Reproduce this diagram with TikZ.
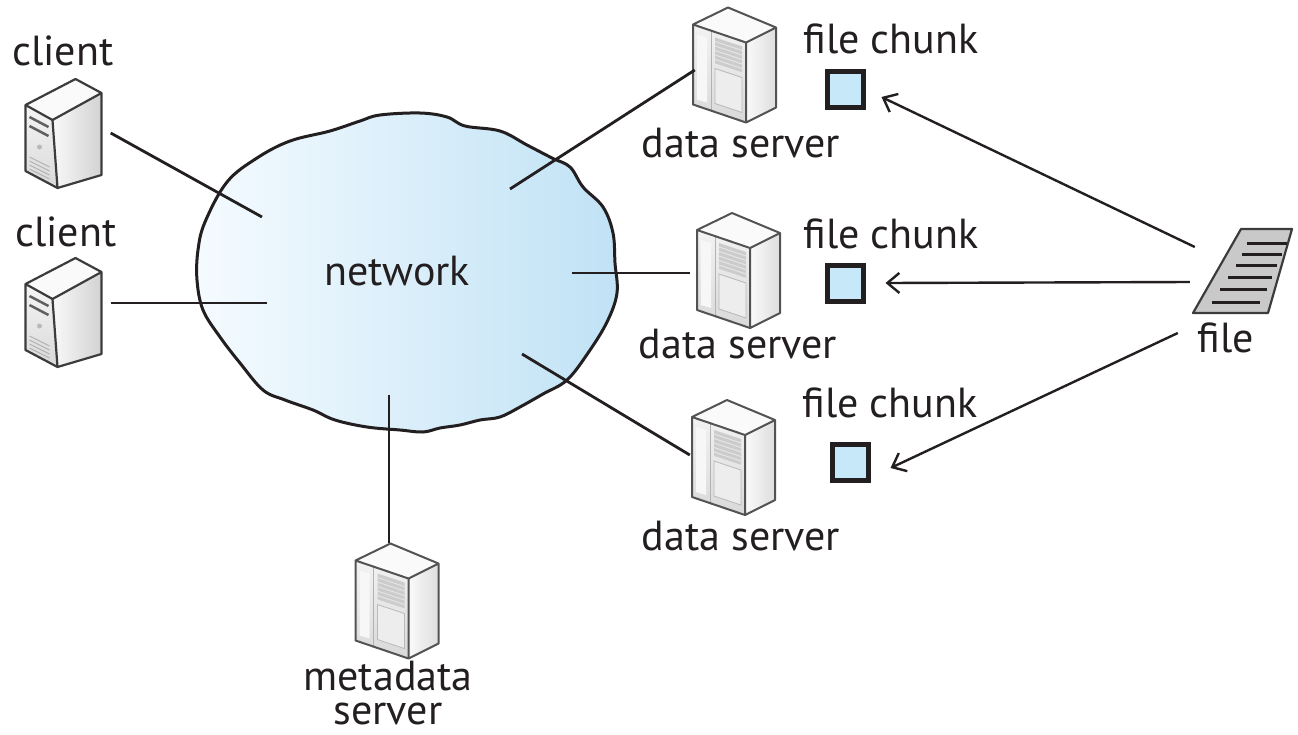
\documentclass[tikz,border=0pt]{standalone}
\usepackage{fontspec}
\setmainfont{PT Sans}
\usetikzlibrary{arrows.meta}
\definecolor{txt}{HTML}{231F20}
\definecolor{cloudL}{HTML}{F5FBFF}
\definecolor{cloudR}{HTML}{C0E2F5}
\definecolor{chunkfill}{HTML}{C6E8F8}
\definecolor{edgec}{HTML}{3C3C3C}
\definecolor{filefill}{HTML}{C9C9C9}
\tikzset{
  conn/.style={draw=txt, line width=2.8pt},
  arr/.style={draw=txt, line width=2.4pt, -{Straight Barb[length=12pt,width=20pt]}},
  lbl/.style={anchor=base, inner sep=0pt, text=txt},
  clientbox/.style={minimum width=94pt, minimum height=110pt, inner sep=0pt},
  rackbox/.style={minimum width=88pt, minimum height=115pt, inner sep=0pt},
  chunkbox/.style={draw=txt, line width=5pt, fill=chunkfill, minimum size=36pt, inner sep=0pt},
  clientpc/.pic={
    \shade[top color=gray!8, bottom color=gray!30] (-38,-28) -- (-11,-13) -- (-6,55) -- (-38,38) -- cycle;
    \shade[left color=gray!5, right color=gray!35] (-11,-13) -- (38,-40) -- (38,42) -- (-6,55) -- cycle;
    \fill[gray!4] (12,-54) -- (-38,-28) -- (-11,-13) -- (38,-40) -- cycle;
    \draw[gray!75!black, line width=2.5pt] (-34,-16) -- (-15,-6) (-34,-7) -- (-15,3);
    \fill[gray!55] (-24,14) circle (2.5);
    \foreach \yy in {24,28,32,36,40} \draw[gray!60, line width=1pt] (-34,\yy) -- (-14,\yy+10);
    \draw[edgec, line width=2.2pt, line join=round] (12,-54) -- (-38,-28) -- (-38,38) -- (-6,55) -- (38,42) -- (38,-40) -- cycle
      (-38,-28) -- (-11,-13) -- (38,-40) (-11,-13) -- (-6,55);
  },
  rackpc/.pic={
    \shade[top color=gray!10, bottom color=gray!30] (-41,-40) -- (12,-22) -- (12,58) -- (-41,40) -- cycle;
    \shade[left color=gray!4, right color=gray!26] (12,-22) -- (42,-37) -- (42,43) -- (12,58) -- cycle;
    \fill[gray!4] (-6,-57) -- (-41,-40) -- (12,-22) -- (42,-37) -- cycle;
    \fill[gray!6] (-37,-30) -- (-27,-27) -- (-27,38) -- (-37,35) -- cycle;
    \draw[gray!60, line width=1pt] (-23,-34) -- (-23,46);
    \fill[gray!40] (-19,-27) -- (8,-18) -- (8,8) -- (-19,-1) -- cycle;
    \foreach \k in {0,...,5} \draw[gray!18, line width=0.8pt] (-19,-23+4.5*\k) -- (8,-14+4.5*\k);
    \fill[gray!14] (-19,4) -- (8,13) -- (8,48) -- (-19,39) -- cycle;
    \draw[gray!55, line width=0.8pt] (-19,4) -- (8,13) -- (8,48) -- (-19,39) -- cycle;
    \draw[gray!65!black, line width=2pt, line join=round] (-6,-57) -- (-41,-40) -- (-41,40) -- (12,58) -- (42,43) -- (42,-37) -- cycle
      (-41,-40) -- (12,-22) -- (42,-37) (12,-22) -- (12,58);
  }
}
\begin{document}
\begin{tikzpicture}[x=1pt, y=-1pt, font=\fontsize{42}{46}\selectfont]
\useasboundingbox (0,0) rectangle (1298,734);
\fill[white] (0,0) rectangle (1298,734);

% cloud
\draw[txt, line width=3pt, left color=cloudL, right color=cloudR]
  plot[smooth cycle, tension=0.6] coordinates {
  (380,115) (420,113) (447,117) (465,126) (500,131) (527,145) (552,158) (570,167)
  (583,187) (603,207) (613,233) (615,263) (617,293) (607,322) (588,353) (567,380)
  (543,394) (520,407) (500,417) (480,420) (460,425) (440,428) (423,432) (400,430)
  (367,427) (335,420) (313,410) (285,400) (263,390) (240,363) (220,337) (203,310)
  (197,280) (198,250) (205,222) (227,182) (257,158) (290,141) (330,131) (360,121)};
\node[lbl] (net) at (397,285) {network};

% free ends inside the cloud
\coordinate (nc1) at (262,217);
\coordinate (nc2) at (267,303);
\coordinate (nd1) at (510,189);
\coordinate (nd2) at (572,273);
\coordinate (nd3) at (522,354);
\coordinate (nm)  at (389,395);

% clients
\node[clientbox] (c1) at (63.5,133) {};
\pic at (c1) {clientpc};
\node[lbl] (lc1) at (63,65) {client};
\node[clientbox] (c2) at (63.5,312) {};
\pic at (c2) {clientpc};
\node[lbl] (lc2) at (66,246) {client};

% data servers
\node[rackbox] (d1) at (734,64.5) {};
\pic at (d1) {rackpc};
\node[lbl] (ld1) at (741,157) {data server};
\node[rackbox] (d2) at (738,270) {};
\pic at (d2) {rackpc};
\node[lbl] (ld2) at (738,358) {data server};
\node[rackbox] (d3) at (733,457) {};
\pic at (d3) {rackpc};
\node[lbl] (ld3) at (741,550) {data server};

% metadata server
\node[rackbox] (m) at (396.5,600.5) {};
\pic at (m) {rackpc};
\node[lbl, align=center, font=\fontsize{42}{34}\selectfont] (lm) at (388,724) {metadata\\server};

% chunks
\node[chunkbox] (k1) at (845.5,89.5) {};
\node[lbl] (lk1) at (891,53) {file chunk};
\node[chunkbox] (k2) at (845,283) {};
\node[lbl] (lk2) at (891,248) {file chunk};
\node[chunkbox] (k3) at (850.5,462) {};
\node[lbl] (lk3) at (890,417) {file chunk};

% file
\node[minimum width=100pt, minimum height=84pt, inner sep=0pt] (file) at (1242,271) {};
\draw[edgec, line width=2.2pt, fill=filefill, line join=round]
  (1193,313) -- (1241,229) -- (1292,229) -- (1268,313) -- cycle;
\foreach \ya/\xa/\xb in {243/1247/1287, 254/1242/1282, 265/1236/1277, 277/1228/1272, 289/1220/1267, 302/1212/1260}
  \draw[txt, line width=3pt] (\xa,\ya) -- (\xb,\ya);
\node[lbl] (lf) at (1226,352) {file};

% connectors
\draw[conn] (c1.east) -- (nc1);
\draw[conn] ([yshift=9pt]c2.east) -- (nc2);
\draw[conn] (nd1) -- ([shift={(5pt,-5.5pt)}]d1.west);
\draw[conn] (nd2) -- ([shift={(-4pt,-3pt)}]d2.west);
\draw[conn] (nd3) -- ([shift={(1pt,2pt)}]d3.west);
\draw[conn] (nm) -- ([xshift=-7.5pt]m.north);

% arrows
\draw[arr] ([shift={(3pt,24pt)}]file.west) -- ([shift={(15.5pt,-7.5pt)}]k1.east);
\draw[arr] ([shift={(-2pt,-11pt)}]file.west) -- ([shift={(20pt,0pt)}]k2.east);
\draw[arr] ([shift={(-14pt,-62pt)}]file.west) -- ([shift={(19.5pt,-6pt)}]k3.east);
\end{tikzpicture}
\end{document}
